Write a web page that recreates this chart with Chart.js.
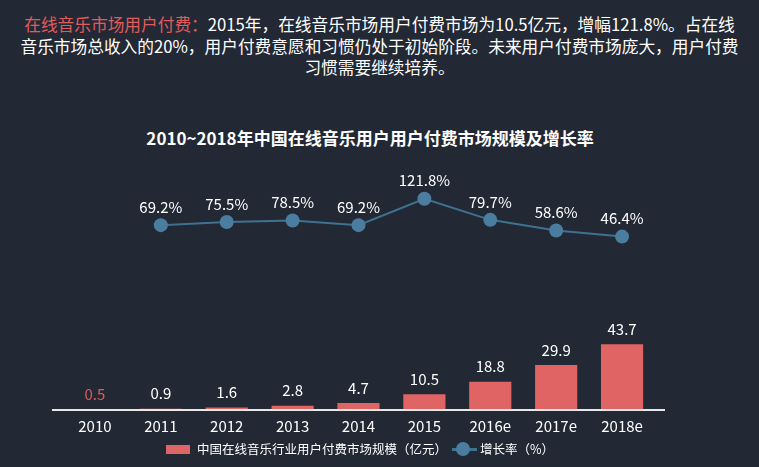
<!DOCTYPE html>
<html>
<head>
<meta charset="utf-8">
<script src="https://cdn.jsdelivr.net/npm/chart.js@4/dist/chart.umd.min.js"></script>
<style>
  html, body { margin: 0; padding: 0; background: #222834; }
  body { width: 759px; height: 467px; position: relative; overflow: hidden; font-family: "Noto Sans CJK SC", sans-serif; color: #ffffff; }
  #intro { position: absolute; left: 0; top: 14px; width: 759px; text-align: center; font-size: 16.7px; line-height: 21.5px; }
  #intro span, #intro br { line-height: 21.5px; }
  #intro .hl { color: #e05c5c; }
  #title { position: absolute; left: 0; top: 127px; width: 740px; text-align: center; font-size: 17px; font-weight: bold; line-height: 22px; }
  #chartWrap { position: absolute; left: 0; top: 0; width: 759px; height: 467px; }
  .lg { position: absolute; font-size: 12.5px; line-height: 16px; white-space: nowrap; }
</style>
</head>
<body>
<div id="intro"><span class="hl">在线音乐市场用户付费：</span>2015年，在线音乐市场用户付费市场为10.5亿元，增幅121.8%。占在线<br>音乐市场总收入的20%，用户付费意愿和习惯仍处于初始阶段。未来用户付费市场庞大，用户付费<br>习惯需要继续培养。</div>
<div id="title">2010~2018年中国在线音乐用户用户付费市场规模及增长率</div>
<div id="chartWrap"><canvas id="c" width="759" height="467"></canvas></div>
<div class="lg" style="left:166px;top:445px;width:24px;height:9px;background:#e06464;"></div>
<div class="lg" id="lg1" style="left:197px;top:441px;">中国在线音乐行业用户付费市场规模（亿元）</div>
<div class="lg" style="left:452px;top:448px;width:25px;height:3px;background:#3f7191;"></div>
<div class="lg" style="left:456px;top:442px;width:14px;height:14px;border-radius:7px;background:#4a7da0;"></div>
<div class="lg" id="lg2" style="left:480px;top:441px;">增长率（%）</div>
<script>
const categories = ["2010", "2011", "2012", "2013", "2014", "2015", "2016e", "2017e", "2018e"];
const marketSize = [0.5, 0.9, 1.6, 2.8, 4.7, 10.5, 18.8, 29.9, 43.7];
const growthRate = [null, 69.2, 75.5, 78.5, 69.2, 121.8, 79.7, 58.6, 46.4];
const sizeLabels = ["0.5", "0.9", "1.6", "2.8", "4.7", "10.5", "18.8", "29.9", "43.7"];
const rateLabels = [null, "69.2%", "75.5%", "78.5%", "69.2%", "121.8%", "79.7%", "58.6%", "46.4%"];

const FONT = '"Noto Sans CJK SC", sans-serif';

const labelPlugin = {
  id: 'labels',
  afterDatasetsDraw(chart) {
    const ctx = chart.ctx;
    const ys = chart.scales.y;
    const area = chart.chartArea;
    const y0 = ys.getPixelForValue(0);
    ctx.save();
    ctx.strokeStyle = '#e8e8e8';
    ctx.lineWidth = 2;
    ctx.beginPath();
    ctx.moveTo(area.left - 10, y0);
    ctx.lineTo(area.right + 10, y0);
    ctx.stroke();
    ctx.font = '15px ' + FONT;
    ctx.textAlign = 'center';
    ctx.textBaseline = 'middle';
    const barMeta = chart.getDatasetMeta(0);
    barMeta.data.forEach((el, i) => {
      ctx.fillStyle = i === 0 ? '#e05c5c' : '#ffffff';
      ctx.fillText(sizeLabels[i], el.x, el.y - 15);
    });
    const lineMeta = chart.getDatasetMeta(1);
    lineMeta.data.forEach((el, i) => {
      if (rateLabels[i] == null) return;
      ctx.fillStyle = '#ffffff';
      ctx.fillText(rateLabels[i], el.x, el.y - 18);
    });
    ctx.restore();
  }
};

new Chart(document.getElementById('c'), {
  type: 'bar',
  data: {
    labels: categories,
    datasets: [
      {
        type: 'bar',
        label: '中国在线音乐行业用户付费市场规模（亿元）',
        data: marketSize,
        backgroundColor: '#e06464',
        borderWidth: 0,
        categoryPercentage: 1,
        barPercentage: 0.64,
        yAxisID: 'y',
        order: 2
      },
      {
        type: 'line',
        label: '增长率（%）',
        data: growthRate,
        borderColor: '#3f7191',
        borderWidth: 2,
        pointRadius: 7,
        pointHoverRadius: 7,
        pointBackgroundColor: '#4a7da0',
        pointBorderColor: '#4a7da0',
        pointBorderWidth: 0,
        tension: 0,
        spanGaps: false,
        yAxisID: 'y2',
        order: 1
      }
    ]
  },
  options: {
    responsive: false,
    animation: false,
    events: [],
    layout: { padding: { left: 62, right: 104, top: 169, bottom: 25 } },
    plugins: {
      legend: { display: false },
      title: { display: false },
      tooltip: { enabled: false }
    },
    scales: {
      x: {
        offset: true,
        grid: { display: false, drawTicks: false },
        border: { display: false },
        ticks: { color: '#ffffff', font: { size: 15, family: FONT }, padding: 7, maxRotation: 0, autoSkip: false }
      },
      y: {
        display: false,
        min: 0,
        max: 160
      },
      y2: {
        display: false,
        min: -299,
        max: 181
      }
    }
  },
  plugins: [labelPlugin]
});
</script>
</body>
</html>
